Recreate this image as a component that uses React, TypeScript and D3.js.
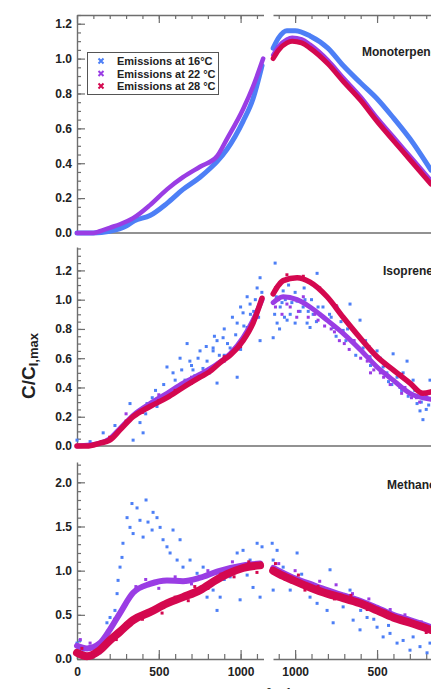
import React, { useEffect, useRef } from "react";
import * as d3 from "d3";

type Pt = [number, number];

// ---- x axis ticks (PAR, broken axis: rising light then falling light)
const xTicksUp = [0, 500, 1000];
const xTicksDown = [1000, 500];
const xMinorUp = [0, 100, 200, 300, 400, 500, 600, 700, 800, 900, 1000, 1100];
const xMinorDown = [1100, 1000, 900, 800, 700, 600, 500, 400, 300, 200, 100];

// ---- y tick labels per panel
const yTicksMono = [0, 0.2, 0.4, 0.6, 0.8, 1.0, 1.2];
const yTicksIso = [0, 0.2, 0.4, 0.6, 0.8, 1.0, 1.2];
const yTicksMeth = [0, 0.5, 1.0, 1.5, 2.0];

const legendLabels = ["Emissions at 16°C", "Emissions at 22 °C", "Emissions at 28 °C"];
const panelTitles = ["Monoterpenes", "Isoprene", "Methanol"];

// ---- Monoterpenes
const monoUp16: Pt[] = [[0, 0], [100, 0], [200, 0.01], [300, 0.04], [350, 0.07], [446, 0.1], [550, 0.17], [648, 0.25], [752, 0.32], [813, 0.37], [856, 0.41], [917, 0.48], [1015, 0.64], [1076, 0.77], [1131, 0.96]];
const monoUp22: Pt[] = [[0, 0], [100, 0], [140, 0.01], [200, 0.03], [263, 0.05], [343, 0.085], [446, 0.16], [550, 0.25], [648, 0.32], [752, 0.38], [856, 0.44], [917, 0.54], [1015, 0.71], [1076, 0.84], [1138, 1.0]];
const monoUp28: Pt[] = [];
const monoDown16: Pt[] = [[1134, 1.06], [1100, 1.12], [1050, 1.16], [1000, 1.16], [909, 1.13], [800, 1.06], [707, 0.96], [600, 0.86], [500, 0.77], [400, 0.66], [299, 0.54], [171, 0.36]];
const monoDown22: Pt[] = [[1134, 1.02], [1100, 1.07], [1050, 1.11], [1018, 1.12], [960, 1.11], [909, 1.08], [800, 0.99], [707, 0.89], [600, 0.78], [500, 0.66], [400, 0.55], [299, 0.44], [171, 0.3]];
const monoDown28: Pt[] = [[1134, 1.0], [1100, 1.05], [1050, 1.09], [1018, 1.1], [960, 1.09], [909, 1.06], [800, 0.97], [707, 0.87], [600, 0.76], [500, 0.64], [400, 0.53], [299, 0.42], [171, 0.28]];

// ---- Isoprene
const isoUp22: Pt[] = [[0, 0], [140, 0.02], [200, 0.05], [263, 0.12], [343, 0.21], [446, 0.29], [550, 0.36], [648, 0.43], [752, 0.49], [856, 0.56], [936, 0.63], [1015, 0.74], [1076, 0.86], [1131, 1.0]];
const isoUp28: Pt[] = [[0, 0], [60, 0], [140, 0.02], [200, 0.04], [263, 0.11], [343, 0.2], [446, 0.27], [550, 0.33], [648, 0.4], [752, 0.47], [813, 0.51], [875, 0.57], [936, 0.62], [1015, 0.72], [1076, 0.84], [1131, 1.01]];
const isoDown22: Pt[] = [[1134, 0.98], [1073, 1.02], [988, 1.0], [909, 0.95], [805, 0.86], [707, 0.77], [604, 0.66], [500, 0.54], [402, 0.45], [299, 0.36], [171, 0.32]];
const isoDown28: Pt[] = [[1134, 1.04], [1100, 1.1], [1073, 1.13], [988, 1.15], [909, 1.12], [805, 1.02], [707, 0.88], [604, 0.74], [500, 0.61], [402, 0.52], [299, 0.43], [220, 0.36], [171, 0.37]];
const isoUpDots16: Pt[] = [[0, 0.04], [80, 0.03], [160, 0.09], [232, 0.14], [324, 0.29], [343, 0.04], [385, 0.16], [404, 0.09], [428, 0.29], [489, 0.27], [550, 0.54], [587, 0.5], [630, 0.6], [673, 0.7], [709, 0.52], [752, 0.65], [795, 0.58], [832, 0.67], [856, 0.43], [832, 0.65], [856, 0.72], [893, 0.74], [936, 0.67], [979, 0.47], [979, 0.84], [1015, 0.91], [1040, 0.81], [1058, 0.97], [1101, 1.08], [1119, 0.72], [1119, 1.15], [600, 0.45], [700, 0.55], [900, 0.62], [1000, 0.66], [1080, 0.92],
  [420, 0.22], [460, 0.33], [480, 0.38], [510, 0.31], [530, 0.42], [560, 0.36], [620, 0.4], [640, 0.52], [660, 0.45], [690, 0.58], [720, 0.48], [740, 0.6], [770, 0.53], [790, 0.68], [810, 0.5], [840, 0.75], [870, 0.62], [900, 0.8], [920, 0.7], [950, 0.88], [970, 0.76], [1000, 0.95], [1020, 0.82], [1040, 1.02], [1060, 0.9], [1090, 1.0], [1110, 0.88], [1130, 1.05]];
const isoDownDots16: Pt[] = [[1134, 0.74], [1122, 1.25], [1110, 0.84], [1091, 0.95], [1073, 1.06], [1049, 0.86], [1030, 0.9], [988, 0.99], [951, 0.95], [927, 0.84], [909, 0.81], [890, 0.9], [866, 1.18], [848, 0.9], [805, 0.86], [768, 0.81], [744, 0.95], [707, 0.79], [665, 0.97], [646, 0.72], [604, 0.86], [585, 0.67], [543, 0.61], [500, 0.65], [463, 0.54], [402, 0.63], [378, 0.47], [341, 0.5], [317, 0.58], [299, 0.36], [280, 0.45], [256, 0.29], [238, 0.24], [220, 0.18], [195, 0.33], [177, 0.45], [1060, 1.0], [1000, 1.05], [940, 1.0], [860, 0.95], [780, 0.88], [690, 0.72], [620, 0.68], [520, 0.56], [430, 0.44], [360, 0.4],
  [1125, 0.9], [1115, 1.02], [1095, 0.8], [1080, 0.98], [1065, 0.88], [1040, 1.1], [1020, 0.98], [1000, 0.84], [970, 0.92], [945, 1.08], [920, 0.92], [900, 1.0], [870, 0.85], [830, 0.95], [790, 0.9], [750, 0.75], [720, 0.85], [680, 0.8], [630, 0.62], [570, 0.72], [540, 0.55], [480, 0.6], [440, 0.5], [410, 0.42], [350, 0.38], [310, 0.34], [270, 0.38], [230, 0.3], [200, 0.25], [185, 0.28]];
const isoUpDots22: Pt[] = [[300, 0.22], [500, 0.35], [700, 0.47], [900, 0.58], [1000, 0.7], [1100, 0.88]];
const isoDownDots22: Pt[] = [[1100, 1.0], [1050, 0.97], [980, 0.92], [950, 1.02], [880, 0.9], [820, 0.82], [760, 0.78], [700, 0.7], [640, 0.72], [560, 0.58], [520, 0.52], [460, 0.47], [380, 0.43], [330, 0.4], [260, 0.33], [200, 0.35],
  [1120, 0.95], [1080, 0.9], [1030, 0.95], [990, 0.88], [920, 0.88], [860, 0.86], [780, 0.8], [730, 0.72], [670, 0.66], [600, 0.6], [540, 0.5], [480, 0.5], [420, 0.42], [350, 0.36], [290, 0.33], [240, 0.3]];
const isoUpDots28: Pt[] = [[200, 0.06], [300, 0.17], [400, 0.23], [500, 0.31], [600, 0.38], [700, 0.43], [800, 0.5], [900, 0.61], [1000, 0.68], [1100, 0.9]];
const isoDownDots28: Pt[] = [[1120, 1.08], [1050, 1.17], [950, 1.16], [850, 1.08], [750, 0.96], [650, 0.8], [550, 0.68], [450, 0.55], [350, 0.49], [250, 0.38]];

// ---- Methanol
const methUp22: Pt[] = [[0, 0.15], [61, 0.12], [140, 0.18], [200, 0.33], [263, 0.52], [343, 0.75], [446, 0.85], [550, 0.89], [648, 0.88], [752, 0.92], [856, 0.99], [1015, 1.06], [1119, 1.08]];
const methUp28: Pt[] = [[0, 0.07], [61, 0.03], [140, 0.1], [200, 0.21], [263, 0.31], [343, 0.44], [446, 0.53], [550, 0.63], [648, 0.7], [752, 0.78], [856, 0.9], [917, 0.96], [1015, 1.03], [1119, 1.06]];
const methDown22: Pt[] = [[1134, 1.03], [1012, 0.92], [909, 0.85], [805, 0.78], [707, 0.72], [604, 0.66], [500, 0.58], [402, 0.5], [299, 0.44], [171, 0.36]];
const methDown28: Pt[] = [[1134, 1.0], [1073, 0.94], [1012, 0.89], [909, 0.81], [805, 0.74], [707, 0.69], [604, 0.63], [500, 0.55], [402, 0.47], [299, 0.41], [171, 0.33]];
const methUpDots16: Pt[] = [[0, 0.18], [18, 0.21], [37, 0.1], [80, 0.14], [140, 0.07], [183, 0.41], [202, 0.47], [232, 0.55], [245, 0.74], [251, 0.89], [263, 1.04], [275, 1.15], [281, 1.31], [306, 1.6], [324, 1.49], [336, 1.76], [343, 1.42], [367, 1.71], [385, 1.57], [404, 1.38], [422, 1.8], [434, 1.55], [459, 1.46], [465, 1.66], [489, 1.6], [508, 1.49], [526, 1.35], [550, 1.27], [569, 1.2], [587, 1.46], [612, 1.12], [630, 1.35], [648, 1.04], [691, 1.12], [734, 0.97], [771, 1.04], [795, 0.7], [832, 0.86], [856, 0.55], [832, 0.78], [875, 0.7], [936, 0.93], [979, 1.2], [997, 0.67], [1015, 1.23], [1058, 1.12], [1101, 1.31], [1119, 0.7], [1131, 1.27], [1076, 0.81], [900, 0.9], [960, 1.0], [1040, 0.95]];
const methDownDots16: Pt[] = [[1140, 1.31], [1134, 1.12], [1134, 0.78], [1110, 1.23], [1073, 1.04], [1030, 0.78], [988, 1.2], [951, 0.86], [909, 0.7], [866, 0.63], [805, 0.55], [787, 1.01], [768, 0.41], [707, 0.59], [665, 0.78], [646, 0.44], [604, 0.33], [561, 0.47], [500, 0.36], [463, 0.25], [421, 0.29], [378, 0.18], [341, 0.21], [299, 0.1], [280, 0.25], [238, 0.14], [195, 0.07], [177, 0.18], [1120, 1.0], [1050, 0.9], [960, 0.96], [880, 0.82], [740, 0.7], [600, 0.55], [520, 0.45], [430, 0.38]];
const methUpDots22: Pt[] = [[20, 0.22], [80, 0.18], [120, 0.08], [180, 0.28], [230, 0.45], [300, 0.62], [360, 0.82], [420, 0.9], [500, 0.8], [600, 0.93], [700, 0.85], [800, 1.0], [950, 1.1]];
const methDownDots22: Pt[] = [[1100, 1.08], [1000, 1.0], [850, 0.88], [750, 0.84], [650, 0.74], [550, 0.68], [420, 0.56], [330, 0.5], [230, 0.42]];
const methUpDots28: Pt[] = [[30, 0.12], [100, 0.05], [170, 0.15], [240, 0.22], [300, 0.4], [400, 0.45], [480, 0.58], [520, 0.52], [600, 0.7], [680, 0.66], [720, 0.82], [800, 0.8], [880, 0.96], [960, 0.93], [1050, 1.1], [1100, 0.98]];
const methDownDots28: Pt[] = [[1120, 1.08], [1060, 0.9], [980, 0.95], [940, 0.78], [860, 0.82], [760, 0.68], [660, 0.72], [560, 0.56], [450, 0.54], [350, 0.42], [250, 0.4], [200, 0.3]];

const COLORS = ["#4d7ff6", "#9a3de4", "#d4084f"];
const AXIS = "#6e6e6e";
const FONT = "'Liberation Sans', Arial, sans-serif";

export default function App() {
  const svgRef = useRef<SVGSVGElement>(null);

  useEffect(() => {
    const svg = d3.select(svgRef.current);
    svg.selectAll("*").remove();

    const xUp = d3.scaleLinear().domain([0, 1140]).range([77, 263.5]);
    const xDown = d3.scaleLinear().domain([1135, 0]).range([273, 459]);

    const panels = [
      {
        title: panelTitles[0], top: 15, bottom: 233, max: 1.25, ticks: yTicksMono, minor: 0.05,
        tx: 362, ty: 56,
        up: [monoUp16, monoUp22, monoUp28], down: [monoDown16, monoDown22, monoDown28],
        dotsUp: [[], [], []] as Pt[][], dotsDown: [[], [], []] as Pt[][], width: [5, 4.5, 5],
      },
      {
        title: panelTitles[1], top: 247, bottom: 446, max: 1.36, ticks: yTicksIso, minor: 0.05,
        tx: 383, ty: 275,
        up: [[], isoUp22, isoUp28], down: [[], isoDown22, isoDown28],
        dotsUp: [isoUpDots16, isoUpDots22, isoUpDots28], dotsDown: [isoDownDots16, isoDownDots22, isoDownDots28], width: [4, 5, 5.5],
      },
      {
        title: panelTitles[2], top: 462, bottom: 659, max: 2.23, ticks: yTicksMeth, minor: 0.1,
        tx: 387, ty: 489,
        up: [[], methUp22, methUp28], down: [[], methDown22, methDown28],
        dotsUp: [methUpDots16, methUpDots22, methUpDots28], dotsDown: [methDownDots16, methDownDots22, methDownDots28], width: [4, 6, 8],
      },
    ];

    panels.forEach((p, pi) => {
      const y = d3.scaleLinear().domain([0, p.max]).range([p.bottom, p.top]);
      const g = svg.append("g");

      // y axis, ticks pointing inward
      const minorVals = d3.range(0, p.max + 1e-9, p.minor);
      g.append("g")
        .attr("transform", "translate(77,0)")
        .call(d3.axisLeft(y).tickValues(minorVals).tickSize(-4).tickSizeOuter(0).tickFormat(() => ""))
        .call((a) => a.select(".domain").remove());
      const ya = g.append("g")
        .attr("transform", "translate(77,0)")
        .call(d3.axisLeft(y).tickValues(p.ticks).tickSize(-8).tickSizeOuter(0).tickPadding(5).tickFormat(d3.format(".1f")));
      ya.selectAll("text").attr("font-size", 12).attr("font-weight", "bold").attr("fill", "#222").attr("font-family", FONT);
      g.selectAll(".tick line").attr("stroke", AXIS).attr("stroke-width", 1.2);
      ya.select(".domain").attr("stroke", AXIS).attr("stroke-width", 1.4);

      if (pi === 0) {
        // top axis with break
        [
          { s: xUp, minor: xMinorUp, major: xTicksUp },
          { s: xDown, minor: xMinorDown, major: xTicksDown },
        ].forEach(({ s, minor, major }) => {
          const t = g.append("g").attr("transform", `translate(0,${p.top})`);
          t.call(d3.axisTop(s).tickValues(minor).tickSize(-4).tickSizeOuter(0).tickFormat(() => ""));
          t.append("g").call(d3.axisTop(s).tickValues(major).tickSize(-8).tickSizeOuter(0).tickFormat(() => ""))
            .call((a) => a.select(".domain").remove());
          t.selectAll("line").attr("stroke", AXIS).attr("stroke-width", 1.2);
          t.selectAll(".domain").attr("stroke", AXIS).attr("stroke-width", 1.4);
        });
      }

      if (pi < 2) {
        g.append("line")
          .attr("x1", 77).attr("x2", 431).attr("y1", p.bottom).attr("y2", p.bottom)
          .attr("stroke", AXIS).attr("stroke-width", 1.4);
      } else {
        [
          { s: xUp, minor: xMinorUp, major: xTicksUp },
          { s: xDown, minor: xMinorDown, major: xTicksDown },
        ].forEach(({ s, minor, major }) => {
          const b = g.append("g").attr("transform", `translate(0,${p.bottom})`);
          b.call(d3.axisBottom(s).tickValues(minor).tickSize(-5).tickSizeOuter(0).tickFormat(() => ""));
          const mj = b.append("g").call(d3.axisBottom(s).tickValues(major).tickSize(-9).tickSizeOuter(0).tickPadding(8).tickFormat(d3.format("d")))
            .call((a) => a.select(".domain").remove());
          mj.selectAll("text").attr("font-size", 12).attr("font-weight", "bold").attr("fill", "#222").attr("font-family", FONT);
          b.selectAll("line").attr("stroke", AXIS).attr("stroke-width", 1.2);
          b.selectAll(".domain").attr("stroke", AXIS).attr("stroke-width", 1.4);
        });
      }

      const lineUp = d3.line<Pt>().x((d) => xUp(d[0])).y((d) => y(d[1])).curve(d3.curveMonotoneX);
      const lineDown = d3.line<Pt>().x((d) => xDown(d[0])).y((d) => y(d[1])).curve(d3.curveMonotoneX);

      // draw 16, 22, 28 in order so 28 °C sits on top
      [0, 1, 2].forEach((k) => {
        const dots = [
          ...p.dotsUp[k].map((d) => [xUp(d[0]), y(d[1])]),
          ...p.dotsDown[k].map((d) => [xDown(d[0]), y(d[1])]),
        ];
        if (p.up[k].length)
          g.append("path").attr("d", lineUp(p.up[k])).attr("fill", "none")
            .attr("stroke", COLORS[k]).attr("stroke-width", p.width[k]).attr("stroke-linecap", "round");
        if (p.down[k].length)
          g.append("path").attr("d", lineDown(p.down[k])).attr("fill", "none")
            .attr("stroke", COLORS[k]).attr("stroke-width", p.width[k]).attr("stroke-linecap", "round");
        g.selectAll(null).data(dots).enter().append("rect")
          .attr("x", (d) => d[0] - 1.5).attr("y", (d) => d[1] - 1.5)
          .attr("width", 3).attr("height", 3).attr("fill", COLORS[k]);
      });

      g.append("text").attr("x", p.tx).attr("y", p.ty).text(p.title)
        .attr("font-size", 12).attr("font-weight", "bold").attr("fill", "#222").attr("font-family", FONT);
    });

    // legend
    const lg = svg.append("g");
    lg.append("rect").attr("x", 87.5).attr("y", 52.5).attr("width", 131).attr("height", 42)
      .attr("fill", "white").attr("stroke", "#555").attr("stroke-width", 1);
    legendLabels.forEach((lab, i) => {
      const yy = 61 + i * 12.5;
      lg.append("path").attr("transform", `translate(101,${yy})`)
        .attr("d", d3.symbol(d3.symbolX, 18)())
        .attr("stroke", COLORS[i]).attr("stroke-width", 2).attr("fill", "none");
      lg.append("text").attr("x", 117).attr("y", yy + 4).text(lab)
        .attr("font-size", 11).attr("font-weight", "bold").attr("fill", "#222").attr("font-family", FONT);
    });

    // y title
    const yt = svg.append("text").attr("transform", "translate(35,366) rotate(-90)")
      .attr("text-anchor", "middle").attr("font-weight", "bold").attr("font-family", FONT).attr("fill", "#222").attr("font-size", 19);
    yt.append("tspan").text("C/C");
    yt.append("tspan").attr("font-size", 13).attr("dy", 3).text("I,max");

    // x title (mostly cropped at the bottom)
    const xt = svg.append("text").attr("x", 296).attr("y", 701).attr("text-anchor", "end")
      .attr("font-weight", "bold").attr("font-family", FONT).attr("fill", "#222").attr("font-size", 14);
    xt.append("tspan").text("PAR (µmol m");
    xt.append("tspan").attr("font-size", 9).attr("dy", -7).text("-2");
    xt.append("tspan").attr("dy", 7).text(" s");
    xt.append("tspan").attr("font-size", 9).attr("dy", -7).text("-1");
    xt.append("tspan").attr("dy", 7).text(")");
  }, []);

  return (
    <div style={{ position: "fixed", left: 0, top: 0, width: 431, height: 689, overflow: "hidden", background: "white" }}>
      <svg ref={svgRef} width={431} height={689} style={{ display: "block" }} />
    </div>
  );
}
